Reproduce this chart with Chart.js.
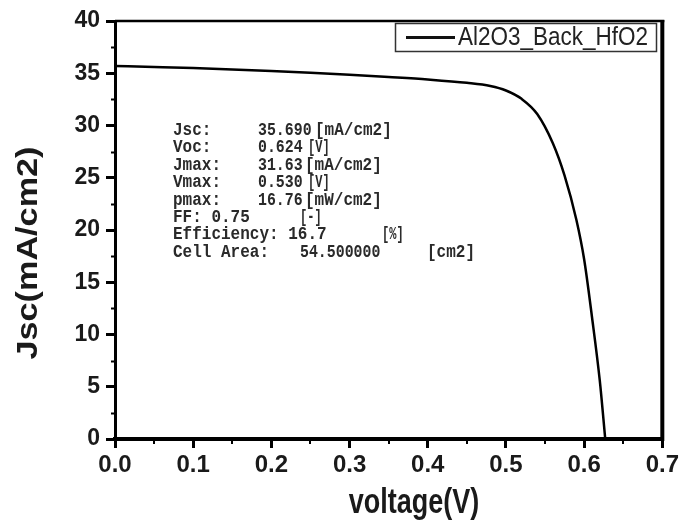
<!DOCTYPE html>
<html>
<head>
<meta charset="utf-8">
<script src="https://cdn.jsdelivr.net/npm/chart.js@4.4.1/dist/chart.umd.min.js"></script>
<style>
  html, body { margin: 0; padding: 0; background: #ffffff; }
  #wrap { width: 682px; height: 528px; position: relative; }
</style>
</head>
<body>
<div id="wrap"><canvas id="c" width="682" height="528"></canvas></div>
<script>
// ---- data ----
const seriesName = 'Al2O3_Back_HfO2';
const voltage = [0, 0.05, 0.10, 0.15, 0.20, 0.25, 0.30, 0.35, 0.40, 0.45, 0.48, 0.50, 0.52, 0.54, 0.56, 0.575, 0.59, 0.60, 0.61, 0.62, 0.627];
const jsc     = [35.69, 35.60, 35.50, 35.36, 35.22, 35.05, 34.86, 34.64, 34.40, 34.08, 33.78, 33.35, 32.55, 31.10, 28.30, 25.20, 21.00, 17.20, 11.70, 5.60, 0];
const xTickLabels = ['0.0', '0.1', '0.2', '0.3', '0.4', '0.5', '0.6', '0.7'];
const yTickLabels = ['0', '5', '10', '15', '20', '25', '30', '35', '40'];
const statLabels = ['Jsc:', 'Voc:', 'Jmax:', 'Vmax:', 'pmax:', 'FF: 0.75', 'Efficiency: 16.7', 'Cell Area:'];
const statValues = ['35.690', '0.624', '31.63', '0.530', '16.76', '', '', '54.500000'];
const statUnits  = ['[mA/cm2]', '[V]', '[mA/cm2]', '[V]', '[mW/cm2]', '[-]', '[%]', '[cm2]'];
const xTitle = 'voltage(V)';
const yTitle = 'Jsc(mA/cm2)';

const points = voltage.map((v, i) => ({ x: v, y: jsc[i] }));

function drawScaled(ctx, text, x, y, sx, sy) {
  if (!text) return;
  ctx.save();
  ctx.translate(x, y);
  ctx.scale(sx, sy);
  ctx.fillText(text, 0, 0);
  ctx.restore();
}

const decor = {
  id: 'decor',
  afterDatasetsDraw(chart) {
    const ctx = chart.ctx;
    const a = chart.chartArea;
    const xs = chart.scales.x, ys = chart.scales.y;
    ctx.save();
    ctx.strokeStyle = '#000';
    // top frame
    ctx.lineWidth = 2.5;
    ctx.beginPath(); ctx.moveTo(a.left, a.top); ctx.lineTo(a.right + 2, a.top); ctx.stroke();
    // right frame
    ctx.lineWidth = 4;
    ctx.beginPath(); ctx.moveTo(a.right, a.top - 1); ctx.lineTo(a.right, a.bottom + 2); ctx.stroke();
    // minor ticks
    ctx.lineWidth = 2;
    for (let v = 2.5; v < 40; v += 5) {
      const py = Math.round(ys.getPixelForValue(v)) + 0.5;
      ctx.beginPath(); ctx.moveTo(a.left - 4, py); ctx.lineTo(a.left, py); ctx.stroke();
    }
    for (let k = 0; k < 7; k++) {
      const px = Math.round(xs.getPixelForValue(0.05 + k * 0.1));
      ctx.beginPath(); ctx.moveTo(px, a.bottom); ctx.lineTo(px, a.bottom + 5); ctx.stroke();
    }
    // legend box
    ctx.lineWidth = 1.5;
    ctx.strokeStyle = '#333';
    ctx.strokeRect(395.5, 23.5, 261, 28);
    ctx.strokeStyle = '#111';
    ctx.lineWidth = 3;
    ctx.beginPath(); ctx.moveTo(406, 37.5); ctx.lineTo(455, 37.5); ctx.stroke();
    ctx.fillStyle = '#222';
    ctx.font = '22px "Liberation Sans", Arial, sans-serif';
    ctx.textBaseline = 'middle';
    ctx.textAlign = 'left';
    ctx.save();
    ctx.translate(458, 38);
    ctx.scale(190 / ctx.measureText(seriesName).width, 1.15);
    ctx.fillText(seriesName, 0, 0);
    ctx.restore();

    // stats annotation
    ctx.fillStyle = '#2a2a2a';
    ctx.font = 'bold 16px "Liberation Mono", "DejaVu Sans Mono", monospace';
    ctx.textBaseline = 'middle';
    const rowY = [130, 147.5, 165, 182.5, 200, 217, 234.5, 252];
    const valX = [258, 258, 258, 258, 258, 0, 0, 300];
    const unitX = [315, 308, 305, 308, 305, 300, 382, 427];
    for (let i = 0; i < statLabels.length; i++) {
      drawScaled(ctx, statLabels[i], 173, rowY[i], 1.0, 1.15);
      drawScaled(ctx, statValues[i], valX[i], rowY[i], 0.93, 1.15);
      drawScaled(ctx, statUnits[i], unitX[i], rowY[i], i === 6 || i === 1 || i === 3 || i === 5 ? 0.75 : 1.0, 1.15);
    }

    // axis titles
    ctx.fillStyle = '#1a1a1a';
    ctx.textAlign = 'center';
    ctx.textBaseline = 'middle';
    ctx.font = 'bold 27px "Liberation Sans", Arial, sans-serif';
    ctx.save();
    ctx.translate(414, 503);
    ctx.scale(1, 1.3);
    ctx.fillText(xTitle, 0, 0);
    ctx.restore();
    ctx.font = 'bold 30px "Liberation Sans", Arial, sans-serif';
    ctx.save();
    ctx.translate(29, 253);
    ctx.rotate(-Math.PI / 2);
    ctx.scale(1.14, 1);
    ctx.fillText(yTitle, 0, 0);
    ctx.restore();
    ctx.restore();
  }
};

new Chart(document.getElementById('c'), {
  type: 'scatter',
  data: {
    datasets: [{
      label: seriesName,
      data: points,
      showLine: true,
      borderColor: '#000',
      borderWidth: 2.5,
      pointRadius: 0,
      cubicInterpolationMode: 'monotone',
      fill: false
    }]
  },
  options: {
    responsive: false,
    animation: false,
    devicePixelRatio: 1,
    layout: { padding: { top: 21, right: 19, left: 0, bottom: 0 } },
    plugins: { legend: { display: false }, tooltip: { enabled: false } },
    scales: {
      x: {
        type: 'linear',
        min: 0, max: 0.7,
        afterFit(s) { s.height = 89; },
        border: { display: true, color: '#000', width: 4 },
        grid: { display: true, drawOnChartArea: false, drawTicks: true, tickLength: 9, tickWidth: 3, tickColor: '#000' },
        ticks: {
          stepSize: 0.1,
          padding: 3,
          color: '#1a1a1a',
          font: { family: '"Liberation Sans", Arial, sans-serif', size: 24, weight: 'bold' },
          callback: (v, i) => xTickLabels[i]
        }
      },
      y: {
        type: 'linear',
        min: 0, max: 40,
        afterFit(s) { s.width = 115; },
        border: { display: true, color: '#000', width: 3 },
        grid: { display: true, drawOnChartArea: false, drawTicks: true, tickLength: 9, tickWidth: 3, tickColor: '#000' },
        ticks: {
          stepSize: 5,
          padding: 6,
          color: '#1a1a1a',
          font: { family: '"Liberation Sans", Arial, sans-serif', size: 23, weight: 'bold' },
          callback: (v, i) => yTickLabels[i]
        }
      }
    }
  },
  plugins: [decor]
});
</script>
</body>
</html>
